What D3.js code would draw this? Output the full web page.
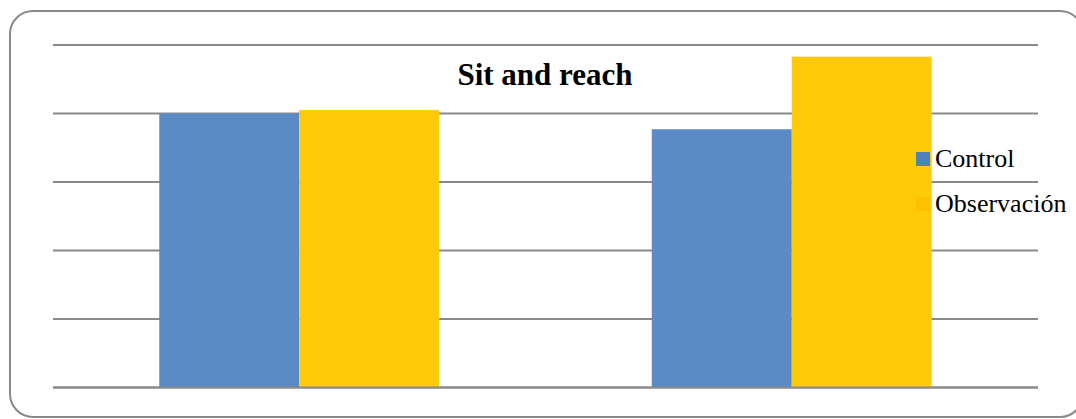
<!DOCTYPE html>
<html>
<head>
<meta charset="utf-8">
<script src="https://cdn.jsdelivr.net/npm/d3@7"></script>
<style>
  html, body { margin: 0; padding: 0; background: #ffffff; }
  svg { display: block; }
</style>
</head>
<body>
<svg id="chart" width="1076" height="419"></svg>
<script>
// Chart data
const title = "Sit and reach";
const categories = ["Grupo 1", "Grupo 2"];
const seriesNames = ["Control", "Observación"];
const controlValues = [4.0, 3.77];
const observacionValues = [4.05, 4.83];
const gridTicks = [0, 1, 2, 3, 4, 5];

const seriesColors = ["#5A8BC7", "#FFCA0A"];
const legendColors = ["#4F81BD", "#FFC000"];

const svg = d3.select("#chart");
const serif = "'Liberation Serif', 'Times New Roman', 'DejaVu Serif', serif";

// Rounded frame around the chart area
svg.append("rect")
  .attr("x", 10).attr("y", 11)
  .attr("width", 1073).attr("height", 406)
  .attr("rx", 23).attr("ry", 23)
  .attr("fill", "#ffffff")
  .attr("stroke", "#8a8a8a")
  .attr("stroke-width", 2);

const plot = { left: 53, right: 1038, top: 45, bottom: 387.5 };

const y = d3.scaleLinear()
  .domain([0, 5])
  .range([plot.bottom, plot.top]);

const x0 = d3.scaleBand()
  .domain(categories)
  .range([plot.left, plot.right])
  .padding(0);

const x1 = d3.scaleBand()
  .domain(seriesNames)
  .range([0, x0.bandwidth()])
  .paddingInner(0)
  .paddingOuter(0.759);

// Horizontal gridlines
svg.append("g")
  .selectAll("line")
  .data(gridTicks)
  .join("line")
  .attr("x1", plot.left)
  .attr("x2", plot.right)
  .attr("y1", d => y(d))
  .attr("y2", d => y(d))
  .attr("stroke", "#8a8a8a")
  .attr("stroke-width", 2);

// Bars
const rows = categories.map((c, i) => ({
  category: c,
  values: [
    { key: seriesNames[0], value: controlValues[i] },
    { key: seriesNames[1], value: observacionValues[i] }
  ]
}));

const groups = svg.append("g")
  .selectAll("g")
  .data(rows)
  .join("g")
  .attr("transform", d => `translate(${x0(d.category)},0)`);

groups.selectAll("rect")
  .data(d => d.values)
  .join("rect")
  .attr("x", d => x1(d.key))
  .attr("width", x1.bandwidth())
  .attr("y", d => y(d.value))
  .attr("height", d => y(0) - y(d.value))
  .attr("fill", (d, i) => seriesColors[i]);

// Baseline redrawn over the bars
svg.append("line")
  .attr("x1", plot.left).attr("x2", plot.right)
  .attr("y1", y(0)).attr("y2", y(0))
  .attr("stroke", "#8a8a8a")
  .attr("stroke-width", 2);

// Title
svg.append("text")
  .attr("x", 545)
  .attr("y", 85)
  .attr("text-anchor", "middle")
  .style("font-family", serif)
  .style("font-weight", "bold")
  .style("font-size", "31px")
  .attr("fill", "#000000")
  .text(title);

// Legend
const legend = svg.append("g")
  .selectAll("g")
  .data(seriesNames)
  .join("g")
  .attr("transform", (d, i) => `translate(916,${152 + i * 45})`);

legend.append("rect")
  .attr("width", 14).attr("height", 14)
  .attr("fill", (d, i) => legendColors[i]);

legend.append("text")
  .attr("x", 19)
  .attr("y", 15)
  .style("font-family", serif)
  .style("font-size", "26px")
  .attr("fill", "#000000")
  .text(d => d);
</script>
</body>
</html>
